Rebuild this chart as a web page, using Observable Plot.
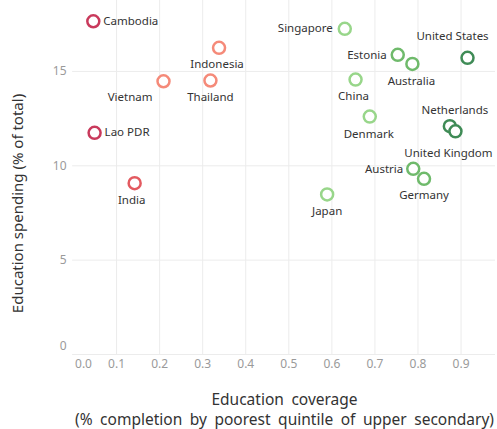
<!DOCTYPE html>
<html>
<head>
<meta charset="utf-8">
<script src="https://cdn.jsdelivr.net/npm/d3@7"></script>
<script src="https://cdn.jsdelivr.net/npm/@observablehq/plot@0.6"></script>
<style>
  html, body { margin: 0; padding: 0; background: #fff; }
  #chart svg { display: block; }
</style>
</head>
<body>
<div id="chart"></div>
<script>
// ---- data ----
const countries = ["Cambodia", "Lao PDR", "India", "Vietnam", "Thailand", "Indonesia",
  "Japan", "Singapore", "China", "Denmark", "Estonia", "Australia", "Austria", "Germany",
  "Netherlands", "United Kingdom", "United States"];
const coverage = [0.046, 0.049, 0.142, 0.209, 0.318, 0.338,
  0.589, 0.630, 0.655, 0.688, 0.753, 0.787, 0.789, 0.814,
  0.874, 0.887, 0.915];
const spending = [17.66, 11.75, 9.08, 14.48, 14.52, 16.25,
  8.48, 17.26, 14.57, 12.61, 15.88, 15.40, 9.84, 9.31,
  12.10, 11.83, 15.72];
const groups = ["g1", "g1", "g2", "g3", "g3", "g3",
  "g4", "g4", "g4", "g4", "g5", "g5", "g5", "g5",
  "g6", "g6", "g6"];
const groupNames = ["g1", "g2", "g3", "g4", "g5", "g6"];
const groupColors = ["#c93a5c", "#e35a60", "#f58a79", "#98d68a", "#6fba6b", "#3f8b56"];
const xTicks = [0, 0.1, 0.2, 0.3, 0.4, 0.5, 0.6, 0.7, 0.8, 0.9];
const yTicks = [0, 5, 10, 15];
const xTitle = "Education coverage\n(% completion by poorest quintile of upper secondary)";
const yTitle = "Education spending (% of total)";

// label placement: [textAnchor, dx, dy]
const labelPlacement = {
  "Cambodia": ["start", 10, 0], "Lao PDR": ["start", 10, 0],
  "India": ["middle", -3, 17], "Vietnam": ["end", -11, 16],
  "Thailand": ["middle", 0, 17], "Indonesia": ["middle", -2, 16],
  "Japan": ["middle", 0, 17], "Singapore": ["end", -12, 0],
  "China": ["middle", -2, 17], "Denmark": ["middle", -1, 18],
  "Estonia": ["end", -11, 0], "Australia": ["middle", -1, 17],
  "Austria": ["end", -10, 0], "Germany": ["middle", 0, 16],
  "Netherlands": ["middle", 5, -16], "United Kingdom": ["middle", -7, 22],
  "United States": ["middle", -15, -22]
};

const data = countries.map((c, i) => ({country: c, x: coverage[i], y: spending[i], g: groups[i]}));

const font = "'Noto Sans', 'Open Sans', sans-serif";

const labelMarks = data.map(d => {
  const [anchor, dx, dy] = labelPlacement[d.country];
  return Plot.text([d], {x: "x", y: "y", text: "country", textAnchor: anchor, dx, dy,
    fill: "#333", fontSize: 11.5, letterSpacing: 0.2});
});

const chart = Plot.plot({
  width: 497,
  height: 429,
  marginLeft: 73,
  marginRight: 2,
  marginTop: 0,
  marginBottom: 75,
  style: {fontFamily: font, background: "#fff"},
  x: {domain: [0, 0.98], axis: null},
  y: {domain: [0, 18.76], axis: null},
  color: {domain: groupNames, range: groupColors},
  marks: [
    Plot.ruleX(xTicks.filter(t => t > 0), {stroke: "#ececec", strokeWidth: 1}),
    Plot.ruleY(yTicks, {stroke: "#ececec", strokeWidth: 1, x1: -0.002, x2: 0.98}),
    Plot.text(xTicks.filter(t => t > 0), {x: d => d, frameAnchor: "bottom", dy: 13, text: d => d.toFixed(1), fill: "#9a9a9a", fontSize: 12}),
    Plot.text([0], {x: d => d, frameAnchor: "bottom", dy: 13, dx: 10, text: d => d.toFixed(1), fill: "#9a9a9a", fontSize: 12}),
    Plot.text(yTicks.filter(t => t > 0), {y: d => d, frameAnchor: "left", dx: -7, textAnchor: "end", text: d => String(d), fill: "#9a9a9a", fontSize: 12}),
    Plot.text([0], {y: d => d, frameAnchor: "left", dx: -7, dy: -8, textAnchor: "end", text: d => String(d), fill: "#9a9a9a", fontSize: 12}),
    Plot.dot(data, {x: "x", y: "y", r: 6, stroke: "g", strokeWidth: 2.5, fill: "white"}),
    ...labelMarks,
    Plot.text([xTitle], {frameAnchor: "bottom", dy: 36, lineAnchor: "top", lineHeight: 1.3, textAnchor: "middle", fill: "#333", fontSize: 15.5, letterSpacing: 0.6}),
    Plot.text([yTitle], {frameAnchor: "left", dx: -55, dy: 26, rotate: -90, textAnchor: "middle", fill: "#333", fontSize: 15})
  ]
});
d3.select(chart).selectAll("text").filter(function () {
  return this.textContent.startsWith("Education coverage");
}).style("word-spacing", "3.5px");
document.getElementById("chart").appendChild(chart);
</script>
</body>
</html>
